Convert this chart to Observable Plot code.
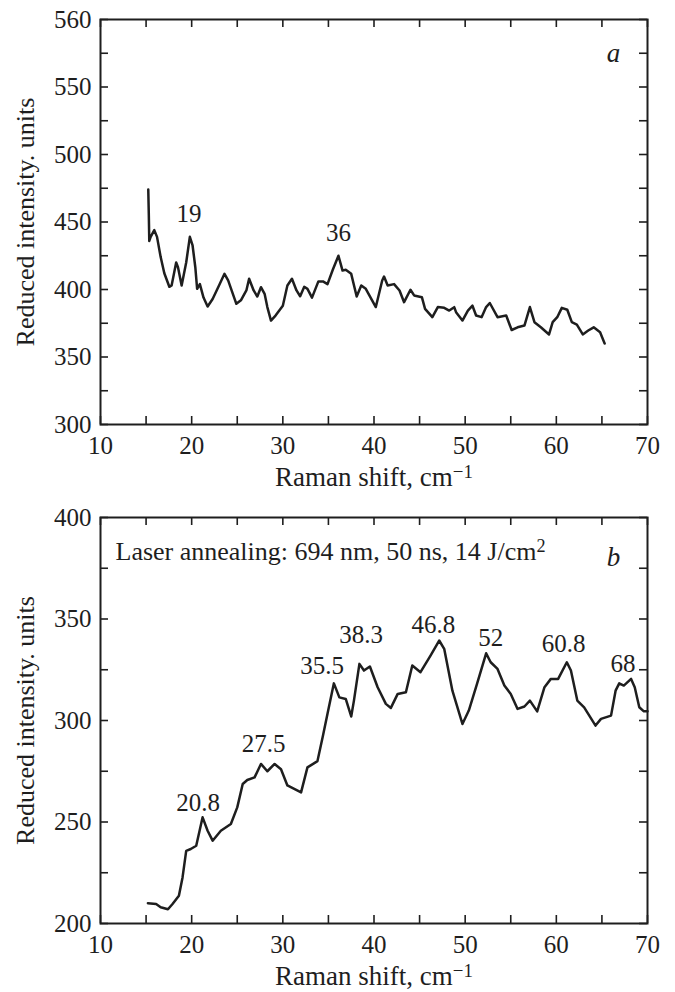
<!DOCTYPE html>
<html><head><meta charset="utf-8">
<script src="https://cdn.jsdelivr.net/npm/d3@7"></script>
<script src="https://cdn.jsdelivr.net/npm/@observablehq/plot@0.6"></script>
<style>body{margin:0;background:#fff} svg{display:block;overflow:visible}</style>
</head><body><div id="chart"></div>
<script>
// ---- Panel a data ----
const shiftA = [15.24,15.3,15.35,15.5,15.9,16.2,16.6,17.0,17.55,17.8,18.3,18.5,18.9,19.4,19.8,20.1,20.4,20.6,20.9,21.3,21.75,22.3,23.0,23.6,24.0,24.9,25.4,26.0,26.3,26.8,27.2,27.6,28.0,28.3,28.7,29.2,30.0,30.5,31.0,31.5,31.9,32.35,32.7,33.2,33.9,34.4,34.9,35.5,36.1,36.55,36.9,37.5,38.1,38.6,39.1,40.2,40.9,41.1,41.5,42.2,42.8,43.3,44.0,44.4,45.25,45.6,46.4,47.0,47.7,48.25,48.8,49.0,49.7,50.3,50.8,51.2,51.8,52.3,52.7,53.55,54.5,55.1,55.75,56.5,57.1,57.6,58.3,59.2,59.6,60.1,60.6,61.2,61.7,62.25,62.9,63.5,64.1,64.8,65.3];
const intensityA = [474,455,436,439,444,439,424,412,402,403,420,416.5,403,420,439,432.6,416.5,400.5,404,394,387.4,393,403,411.6,406.7,389.4,392,399.3,408,399.3,394.8,401.7,396.8,387,377,380.7,388,403,408,399.3,395,402,400.5,394,406,406,404,415,425,414,414.6,411.6,394.8,403,400.5,387,406.7,409.6,403,404,399.3,390.6,399.8,395.6,394.3,385.7,379.5,387,386.4,384.4,386.9,383.2,377,384.4,388,380.7,379.5,387,390,379.5,380.7,370,372,373.3,387,375.8,372,366.7,375.8,379.5,386.4,385,375.8,374,366.7,369.6,372,368.4,360];
const peakTextA = ["19","36"];
const peakXA = [19.7,36.1];
const peakYA = [456,441.5];
const yTicksA = [300,350,400,450,500,550,600];
const yTickTextA = ["300","350","400","450","500","550","560"];
const yMinorA = [300,325,350,375,400,425,450,475,500,525,550,575,600];

// ---- Panel b data ----
const shiftB = [15.2,16.1,16.6,17.4,17.9,18.6,19.0,19.4,19.9,20.5,21.2,21.75,22.3,23.2,24.3,25.0,25.6,26.1,26.9,27.6,28.3,29.1,29.8,30.5,31.25,32.0,32.7,33.8,34.4,34.9,35.6,36.2,36.9,37.5,37.8,38.4,38.9,39.55,40.4,41.3,41.85,42.6,43.5,44.2,45.1,46.2,47.15,47.7,48.6,49.7,50.4,51.3,52.3,52.8,53.55,54.3,55.0,55.75,56.5,57.1,57.9,58.7,59.4,60.2,61.15,61.6,62.3,63.05,64.3,64.9,66.0,66.5,66.9,67.4,68.2,68.6,69.1,69.6,70.0];
const intensityB = [210,209.6,208,207,209.6,213.7,222.7,235.8,236.7,238.3,252.3,245.7,240.8,245.7,249,257.2,268.7,270.7,272,278.6,275,278.6,276,268,266.3,264.6,276.9,280,292.5,303.3,318.3,311.4,310.6,302,309.8,327.9,324.6,326.6,316.4,308.2,306.2,313.1,313.9,327.1,323.8,332,339.4,335.3,314.7,298.3,304.9,318,333.1,328.7,325.4,317.2,313.1,305.7,306.9,309.8,304.5,316.4,320.5,320.5,328.7,324.6,309.8,306.5,297.5,300.8,302.4,314.7,318.3,317.2,320.5,316.4,306.5,304.5,304.5];
const peakTextB = ["20.8","27.5","35.5","38.3","46.8","52","60.8","68"];
const peakXB = [20.7,27.9,34.3,38.6,46.5,52.8,60.8,67.3];
const peakYB = [259.5,288.6,327,341.9,346.8,340.4,337.9,328];
const yTicksB = [200,250,300,350,400];
const yTickTextB = ["200","250","300","350","400"];
const yMinorB = [200,225,250,275,300,325,350,375,400];

const xTicks = [10,20,30,40,50,60,70];
const xMinor = [10,15,20,25,30,35,40,45,50,55,60,65,70];

const xTitle = "Raman shift, cm^\u22121";
const yTitle = "Reduced intensity. units";
const noteB = "Laser annealing: 694 nm, 50 ns, 14 J/cm^2";

const FONT = "'Liberation Serif', 'Times New Roman', serif";
const INK = "#1e1e1e";

function supers(svg){
  d3.select(svg).selectAll("text").each(function(){
    const s = this.textContent;
    if (!s.includes("^")) return;
    const [base, sup] = s.split("^");
    const t = d3.select(this);
    t.text(null);
    t.append("tspan").text(base);
    t.append("tspan").attr("dy","-0.45em").attr("font-size","0.7em").text(sup);
  });
}

function panel(o){
  const W = 675, ml = 100, mr = 28, T = 8;
  const ih = o.height - o.mt - o.mb, iw = W - ml - mr;
  const pts = o.shift.map((x,i)=>({x, y:o.intensity[i]}));
  const marks = [
    Plot.tickX(xMinor, {x:d=>d, insetTop: ih - T, stroke: INK, strokeWidth: 1.6}),
    Plot.tickX(xMinor, {x:d=>d, insetBottom: ih - T, stroke: INK, strokeWidth: 1.6}),
    Plot.tickY(o.yMinor, {y:d=>d, insetLeft: iw - T, stroke: INK, strokeWidth: 1.6}),
    Plot.tickY(o.yMinor, {y:d=>d, insetRight: iw - T, stroke: INK, strokeWidth: 1.6}),
    Plot.frame({stroke: INK, strokeWidth: 2}),
    Plot.axisX({ticks: xTicks, tickSize: 0, tickPadding: 12, label: null, fill: INK}),
    Plot.axisY({ticks: o.yTicks, tickSize: 0, tickPadding: 9, label: null, fill: INK,
      tickFormat: d => o.yTickText[o.yTicks.indexOf(d)]}),
    Plot.line(pts, {x:"x", y:"y", stroke: INK, strokeWidth: 2.5, strokeLinejoin: "round"}),
    Plot.text(o.peakText, {x:(d,i)=>o.peakX[i], y:(d,i)=>o.peakY[i], text:d=>d, fill: INK, fontSize: 25, lineAnchor: "middle"}),
    Plot.text([o.tag], {frameAnchor:"top-right", textAnchor:"middle", lineAnchor:"middle", dx:-34, dy:o.tagDy, text:d=>d, fontStyle:"italic", fontSize: 27, fill: INK}),
    Plot.text([xTitle], {frameAnchor:"bottom", textAnchor:"middle", lineAnchor:"middle", dy:53, text:d=>d, fontSize: 27, fill: INK}),
    Plot.text([yTitle], {frameAnchor:"left", textAnchor:"middle", lineAnchor:"middle", dx:-75, rotate:-90, text:d=>d, fontSize: 26, fill: INK})
  ];
  if (o.note) marks.push(Plot.text([o.note], {frameAnchor:"top-left", textAnchor:"start", lineAnchor:"middle", dx:15, dy:34, text:d=>d, fontSize: 26, fill: INK}));
  const svg = Plot.plot({
    width: W, height: o.height,
    marginTop: o.mt, marginBottom: o.mb, marginLeft: ml, marginRight: mr,
    x: {domain:[10,70]},
    y: {domain:o.yDomain},
    style: {fontFamily: FONT, fontSize: "25px", color: INK, background: "#fff", overflow: "visible"},
    marks
  });
  supers(svg);
  return svg;
}

const root = document.getElementById("chart");
root.appendChild(panel({shift: shiftA, intensity: intensityA, yDomain:[300,600], yTicks: yTicksA, yTickText: yTickTextA, yMinor: yMinorA,
  height: 500, mt: 19, mb: 76, peakText: peakTextA, peakX: peakXA, peakY: peakYA, tag: "a", tagDy: 34}));
root.appendChild(panel({shift: shiftB, intensity: intensityB, yDomain:[200,400], yTicks: yTicksB, yTickText: yTickTextB, yMinor: yMinorB,
  height: 492, mt: 17, mb: 69, peakText: peakTextB, peakX: peakXB, peakY: peakYB, tag: "b", tagDy: 40, note: noteB}));
</script>
</body></html>
